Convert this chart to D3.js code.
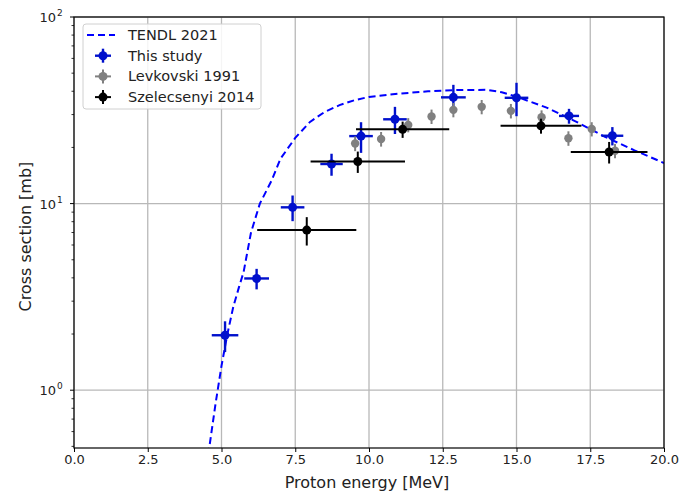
<!DOCTYPE html>
<html>
<head>
<meta charset="utf-8">
<script src="https://cdn.jsdelivr.net/npm/d3@7"></script>
<style>
  html, body { margin: 0; padding: 0; background: #fff; }
  svg { display: block; font-family: "DejaVu Sans", sans-serif; }
</style>
</head>
<body>
<svg id="chart" width="691" height="494"></svg>
<script>
// TENDL 2021 evaluated excitation function
const tendlEnergy = [4.55, 4.8, 5.0, 5.2, 5.4, 5.6, 5.75, 6.0, 6.3, 6.7, 7.0, 7.5, 8.0, 8.5, 9.0, 9.5, 10.0, 11.0, 12.0, 13.0, 14.0, 14.5, 15.0, 16.0, 17.0, 18.0, 19.0, 20.0];
const tendlXS     = [0.45, 0.85, 1.35, 2.0, 2.8, 3.6, 4.3, 7.0, 10.0, 13.3, 17.4, 22.5, 27.4, 31.0, 33.7, 35.8, 37.3, 38.8, 40.0, 40.6, 40.7, 39.5, 37.4, 32.8, 27.6, 22.8, 19.3, 16.5];

// This study
const studyEnergy    = [5.12, 6.19, 7.41, 8.73, 9.73, 10.88, 12.86, 15.0, 16.78, 18.25];
const studyEnergyErr = [0.45, 0.42, 0.40, 0.38, 0.40, 0.40, 0.42, 0.40, 0.34, 0.37];
const studyXS        = [1.97, 3.97, 9.55, 16.3, 23.0, 28.3, 37.1, 36.9, 29.5, 23.1];
const studyXSErr     = [0.37, 0.5, 1.5, 2.2, 4.3, 4.7, 6.2, 7.5, 2.7, 2.6];

// Levkovski 1991
const levEnergy    = [9.53, 10.41, 11.33, 12.12, 12.86, 13.82, 14.81, 15.85, 16.76, 17.55, 18.34];
const levEnergyErr = [0.1, 0.1, 0.1, 0.1, 0.1, 0.1, 0.1, 0.1, 0.1, 0.1, 0.1];
const levXS        = [21.0, 22.2, 26.4, 29.3, 31.8, 33.0, 31.4, 29.0, 22.4, 25.1, 19.2];
const levXSErr     = [1.9, 2.0, 2.3, 2.6, 2.8, 2.9, 2.8, 2.6, 2.0, 2.2, 1.7];

// Szelecsenyi 2014
const szEnergy    = [7.89, 9.62, 11.14, 15.83, 18.14];
const szEnergyErr = [1.68, 1.6, 1.58, 1.37, 1.3];
const szXS        = [7.21, 16.8, 25.0, 26.1, 18.9];
const szXSErr     = [1.25, 2.2, 2.5, 2.4, 2.5];

// Axis ticks
const xTicks = [0, 2.5, 5, 7.5, 10, 12.5, 15, 17.5, 20];
const yDecades = [0, 1, 2];

const svg = d3.select("#chart");
const W = 691, H = 494;
const m = { left: 74, top: 17, right: 27, bottom: 46 };
const iw = W - m.left - m.right, ih = H - m.top - m.bottom;

const x = d3.scaleLinear().domain([0, 20]).range([0, iw]);
const y = d3.scaleLog().domain([0.49, 100]).range([ih, 0]);

const g = svg.append("g").attr("transform", `translate(${m.left},${m.top})`);

g.append("clipPath").attr("id", "plotclip")
  .append("rect").attr("width", iw).attr("height", ih);

// grid
const grid = g.append("g").attr("stroke", "#b8b8b8").attr("stroke-width", 1.3);
xTicks.forEach(t => grid.append("line").attr("x1", x(t)).attr("x2", x(t)).attr("y1", 0).attr("y2", ih));
yDecades.forEach(d => grid.append("line").attr("x1", 0).attr("x2", iw).attr("y1", y(Math.pow(10, d))).attr("y2", y(Math.pow(10, d))));

// TENDL curve
const line = d3.line().x(d => x(d[0])).y(d => y(d[1]));
g.append("path")
  .attr("clip-path", "url(#plotclip)")
  .datum(tendlEnergy.map((e, i) => [e, tendlXS[i]]))
  .attr("fill", "none").attr("stroke", "#0000ff").attr("stroke-width", 2)
  .attr("stroke-dasharray", "7,4")
  .attr("d", line);

function series(ex, exErr, ys, ysErr, color, lw, r) {
  const s = g.append("g").attr("clip-path", "url(#plotclip)");
  const pts = ex.map((e, i) => ({ e, de: exErr[i], v: ys[i], dv: ysErr[i] }));
  s.selectAll("line.h").data(pts).join("line").attr("class", "h")
    .attr("x1", d => x(d.e - d.de)).attr("x2", d => x(d.e + d.de))
    .attr("y1", d => y(d.v)).attr("y2", d => y(d.v))
    .attr("stroke", color).attr("stroke-width", lw);
  s.selectAll("line.v").data(pts).join("line").attr("class", "v")
    .attr("x1", d => x(d.e)).attr("x2", d => x(d.e))
    .attr("y1", d => y(d.v - d.dv)).attr("y2", d => y(d.v + d.dv))
    .attr("stroke", color).attr("stroke-width", lw);
  s.selectAll("circle").data(pts).join("circle")
    .attr("cx", d => x(d.e)).attr("cy", d => y(d.v)).attr("r", r)
    .attr("fill", color);
}

const blue = "#0010cc", gray = "#808080", black = "#000000";
series(studyEnergy, studyEnergyErr, studyXS, studyXSErr, blue, 2.4, 4.5);
series(levEnergy, levEnergyErr, levXS, levXSErr, gray, 2, 4.2);
series(szEnergy, szEnergyErr, szXS, szXSErr, black, 2, 4.5);

// frame
g.append("rect").attr("width", iw).attr("height", ih)
  .attr("fill", "none").attr("stroke", "#000").attr("stroke-width", 1.2);

// x axis
const xAxis = g.append("g").attr("transform", `translate(0,${ih})`)
  .call(d3.axisBottom(x).tickValues(xTicks).tickFormat(d3.format(".1f")).tickSizeOuter(0).tickSize(4).tickPadding(3));
xAxis.select(".domain").remove();
xAxis.selectAll("text").attr("font-size", 13).attr("fill", "#222").attr("font-family", "DejaVu Sans");
xAxis.selectAll("line").attr("stroke", "#000");

// y axis: major and minor ticks
const yA = g.append("g");
const minor = [];
for (let d = -1; d < 2; d++) for (let k = 2; k <= 9; k++) {
  const v = k * Math.pow(10, d);
  if (v >= 0.49 && v <= 100) minor.push(v);
}
yA.selectAll("line.minor").data(minor).join("line")
  .attr("x1", -2.5).attr("x2", 0).attr("y1", d => y(d)).attr("y2", d => y(d))
  .attr("stroke", "#000").attr("stroke-width", 0.8);
yA.selectAll("line.major").data(yDecades).join("line")
  .attr("x1", -4).attr("x2", 0).attr("y1", d => y(Math.pow(10, d))).attr("y2", d => y(Math.pow(10, d)))
  .attr("stroke", "#000").attr("stroke-width", 1);
yDecades.forEach(d => {
  yA.append("text")
    .attr("x", -18).attr("y", y(Math.pow(10, d)) + 5)
    .attr("text-anchor", "end").attr("font-size", 13).attr("fill", "#222")
    .text("10");
  yA.append("text")
    .attr("x", -17).attr("y", y(Math.pow(10, d)) - 1)
    .attr("text-anchor", "start").attr("font-size", 9).attr("fill", "#222")
    .text(String(d));
});

// axis labels
svg.append("text").attr("x", m.left + iw / 2 - 2).attr("y", 488)
  .attr("text-anchor", "middle").attr("font-size", 16).attr("fill", "#222")
  .text("Proton energy [MeV]");
svg.append("text").attr("transform", `translate(31,${m.top + y(10) + 33}) rotate(-90)`)
  .attr("text-anchor", "middle").attr("font-size", 16).attr("fill", "#222")
  .text("Cross section [mb]");

// legend
const lg = svg.append("g").attr("transform", "translate(83,24)");
lg.append("rect").attr("width", 178).attr("height", 85).attr("rx", 3)
  .attr("fill", "#fff").attr("fill-opacity", 0.85).attr("stroke", "#d0d0d0");
const entries = [
  { label: "TENDL 2021", type: "line", color: "#0000ff" },
  { label: "This study", type: "pt", color: blue, lw: 2.4 },
  { label: "Levkovski 1991", type: "pt", color: gray, lw: 2 },
  { label: "Szelecsenyi 2014", type: "pt", color: black, lw: 2 }
];
entries.forEach((e, i) => {
  const cy = 11 + i * 20.7;
  if (e.type === "line") {
    lg.append("line").attr("x1", 4).attr("x2", 32).attr("y1", cy).attr("y2", cy)
      .attr("stroke", e.color).attr("stroke-width", 2).attr("stroke-dasharray", "7,4");
  } else {
    lg.append("line").attr("x1", 12).attr("x2", 28).attr("y1", cy).attr("y2", cy)
      .attr("stroke", e.color).attr("stroke-width", e.lw);
    lg.append("line").attr("x1", 20).attr("x2", 20).attr("y1", cy - 7).attr("y2", cy + 7)
      .attr("stroke", e.color).attr("stroke-width", e.lw);
    lg.append("circle").attr("cx", 20).attr("cy", cy).attr("r", 4.5).attr("fill", e.color);
  }
  lg.append("text").attr("x", 45).attr("y", cy + 5)
    .attr("font-size", 14.5).attr("fill", "#222").text(e.label);
});
</script>
</body>
</html>
